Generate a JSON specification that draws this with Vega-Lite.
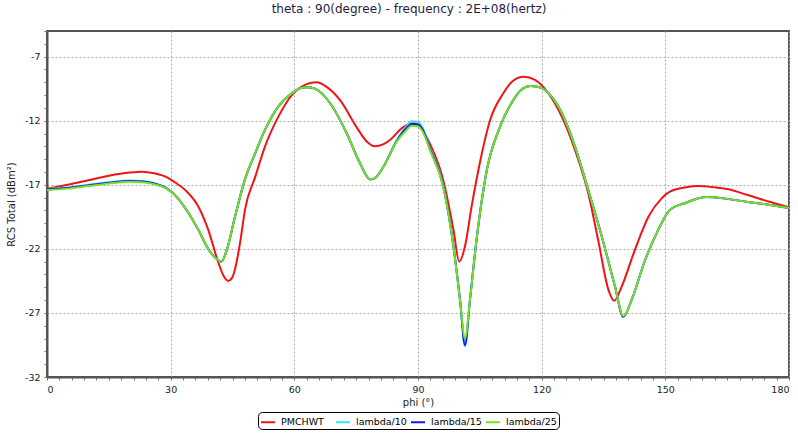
{
  "$schema": "https://vega.github.io/schema/vega-lite/v6.json",
  "width": 742,
  "height": 346,
  "autosize": {"type": "none"},
  "padding": {"left": 47, "top": 31, "right": 9, "bottom": 57},
  "background": "white",
  "title": {"text": "theta : 90(degree) - frequency : 2E+08(hertz)", "font": "DejaVu Sans", "fontSize": 12, "fontWeight": "normal", "color": "#1e1e46", "offset": 10, "dx": -9},
  "config": {
    "view": {"stroke": "#555555", "strokeWidth": 2},
    "axis": {
      "labelFont": "DejaVu Sans", "labelFontSize": 9.5, "labelColor": "#222222",
      "titleFont": "DejaVu Sans", "titleFontSize": 10, "titleFontWeight": "normal", "titleColor": "#222222",
      "domainColor": "#555555", "domainWidth": 2,
      "tickColor": "#777777", "tickSize": 3,
      "gridColor": "#aaaaaa", "gridDash": [2, 2], "gridWidth": 1
    }
  },
  "encoding": {
    "x": {
      "field": "phi", "type": "quantitative",
      "scale": {"domain": [0, 180], "nice": false, "zero": false},
      "axis": {
        "title": "phi (°)",
        "values": [0,3,6,9,12,15,18,21,24,27,30,33,36,39,42,45,48,51,54,57,60,63,66,69,72,75,78,81,84,87,90,93,96,99,102,105,108,111,114,117,120,123,126,129,132,135,138,141,144,147,150,153,156,159,162,165,168,171,174,177,180],
        "labelExpr": "datum.value % 30 === 0 ? '' + datum.value : ''",
        "gridOpacity": {"condition": {"test": "datum.value % 30 === 0", "value": 1}, "value": 0},
        "labelPadding": 4,
        "titlePadding": 4,
        "labelOverlap": false
      }
    },
    "y": {
      "field": "v", "type": "quantitative",
      "scale": {"domain": [-32, -5], "nice": false, "zero": false},
      "axis": {
        "title": "RCS Total (dBm²)",
        "values": [-32,-31,-30,-29,-28,-27,-26,-25,-24,-23,-22,-21,-20,-19,-18,-17,-16,-15,-14,-13,-12,-11,-10,-9,-8,-7,-6,-5],
        "labelExpr": "(datum.value + 32) % 5 === 0 ? '' + datum.value : ''",
        "gridOpacity": {"condition": {"test": "(datum.value + 32) % 5 === 0", "value": 1}, "value": 0},
        "labelPadding": 4,
        "titlePadding": 8,
        "labelOverlap": false
      }
    },
    "color": {
      "field": "s", "type": "nominal",
      "scale": {"domain": ["PMCHWT", "lambda/10", "lambda/15", "lambda/25"], "range": ["#ee1515", "#33e6e6", "#1515ee", "#77e022"]},
      "legend": {
        "title": null, "orient": "none", "direction": "horizontal", "legendX": 211, "legendY": 381,
        "symbolType": "stroke", "symbolStrokeWidth": 2, "symbolSize": 196,
        "labelFont": "DejaVu Sans", "labelFontSize": 9.5, "labelColor": "#000000", "labelOffset": 5,
        "columnPadding": 0, "gridAlign": "all",
        "strokeColor": "#000000", "fillColor": "#ffffff", "padding": 2, "cornerRadius": 4
      }
    }
  },
  "layer": [
    {
      "data": {"values": [
        {"phi":0,"PMCHWT":-17.3},{"phi":5,"PMCHWT":-17.0},{"phi":10,"PMCHWT":-16.65},{"phi":15,"PMCHWT":-16.3},{"phi":20,"PMCHWT":-16.05},{"phi":23,"PMCHWT":-15.98},{"phi":26,"PMCHWT":-16.1},{"phi":29,"PMCHWT":-16.4},{"phi":31,"PMCHWT":-16.8},{"phi":33.5,"PMCHWT":-17.4},{"phi":36.7,"PMCHWT":-18.7},{"phi":39.1,"PMCHWT":-20.5},{"phi":41.6,"PMCHWT":-23.1},{"phi":43,"PMCHWT":-24.2},{"phi":44,"PMCHWT":-24.5},{"phi":45,"PMCHWT":-24.2},{"phi":45.6,"PMCHWT":-23.6},{"phi":47,"PMCHWT":-21.2},{"phi":48,"PMCHWT":-19.0},{"phi":50.5,"PMCHWT":-16.4},{"phi":52.9,"PMCHWT":-14.0},{"phi":56.1,"PMCHWT":-11.7},{"phi":59.4,"PMCHWT":-10.0},{"phi":62,"PMCHWT":-9.3},{"phi":65.4,"PMCHWT":-9.0},{"phi":68,"PMCHWT":-9.4},{"phi":71.1,"PMCHWT":-10.4},{"phi":75.1,"PMCHWT":-12.5},{"phi":77.5,"PMCHWT":-13.6},{"phi":79.6,"PMCHWT":-14.0},{"phi":81.5,"PMCHWT":-13.85},{"phi":83.2,"PMCHWT":-13.5},{"phi":86.4,"PMCHWT":-12.5},{"phi":88.9,"PMCHWT":-12.2},{"phi":90.5,"PMCHWT":-12.5},{"phi":92.9,"PMCHWT":-13.8},{"phi":96.1,"PMCHWT":-16.6},{"phi":98.6,"PMCHWT":-20.5},{"phi":100,"PMCHWT":-23.0},{"phi":101.4,"PMCHWT":-21.8},{"phi":103,"PMCHWT":-18.7},{"phi":105,"PMCHWT":-15.3},{"phi":107.5,"PMCHWT":-11.95},{"phi":110.7,"PMCHWT":-9.86},{"phi":113,"PMCHWT":-8.9},{"phi":115.6,"PMCHWT":-8.57},{"phi":118.4,"PMCHWT":-8.82},{"phi":121.6,"PMCHWT":-9.86},{"phi":124.9,"PMCHWT":-11.7},{"phi":128.1,"PMCHWT":-14.3},{"phi":131.3,"PMCHWT":-17.66},{"phi":133.7,"PMCHWT":-21.3},{"phi":136.2,"PMCHWT":-25.2},{"phi":137.6,"PMCHWT":-26.05},{"phi":139.4,"PMCHWT":-24.95},{"phi":142.6,"PMCHWT":-22.1},{"phi":145.9,"PMCHWT":-19.5},{"phi":149.1,"PMCHWT":-18.06},{"phi":151.1,"PMCHWT":-17.54},{"phi":155,"PMCHWT":-17.2},{"phi":158,"PMCHWT":-17.1},{"phi":162,"PMCHWT":-17.2},{"phi":165,"PMCHWT":-17.33},{"phi":170,"PMCHWT":-17.8},{"phi":175,"PMCHWT":-18.3},{"phi":180,"PMCHWT":-18.75}
      ]},
      "transform": [{"fold": ["PMCHWT"], "as": ["s", "v"]}],
      "mark": {"type": "line", "strokeWidth": 2, "interpolate": "monotone"}
    },
    {
      "data": {"values": [
        {"phi":0,"lambda/10":-17.32,"lambda/15":-17.35,"lambda/25":-17.4},
        {"phi":5,"lambda/10":-17.22,"lambda/15":-17.25,"lambda/25":-17.3},
        {"phi":10,"lambda/10":-17.0,"lambda/15":-17.05,"lambda/25":-17.1},
        {"phi":15,"lambda/10":-16.8,"lambda/15":-16.85,"lambda/25":-16.9},
        {"phi":20,"lambda/10":-16.66,"lambda/15":-16.7,"lambda/25":-16.76},
        {"phi":23,"lambda/10":-16.7,"lambda/15":-16.74,"lambda/25":-16.8},
        {"phi":26,"lambda/10":-16.87,"lambda/15":-16.9,"lambda/25":-16.95},
        {"phi":29,"lambda/10":-17.25,"lambda/15":-17.28,"lambda/25":-17.3},
        {"phi":31,"lambda/10":-17.78,"lambda/15":-17.8,"lambda/25":-17.8},
        {"phi":33.5,"lambda/10":-18.8,"lambda/15":-18.8,"lambda/25":-18.8},
        {"phi":36.7,"lambda/10":-20.5,"lambda/15":-20.5,"lambda/25":-20.5},
        {"phi":39.1,"lambda/10":-22.0,"lambda/15":-22.0,"lambda/25":-22.0},
        {"phi":41.6,"lambda/10":-22.9,"lambda/15":-22.9,"lambda/25":-22.9},
        {"phi":42.3,"lambda/10":-23.0,"lambda/15":-23.0,"lambda/25":-23.0},
        {"phi":43.6,"lambda/10":-22.1,"lambda/15":-22.1,"lambda/25":-22.1},
        {"phi":45.6,"lambda/10":-19.5,"lambda/15":-19.5,"lambda/25":-19.5},
        {"phi":48,"lambda/10":-16.6,"lambda/15":-16.6,"lambda/25":-16.6},
        {"phi":50.5,"lambda/10":-14.55,"lambda/15":-14.55,"lambda/25":-14.55},
        {"phi":52.9,"lambda/10":-12.7,"lambda/15":-12.7,"lambda/25":-12.7},
        {"phi":56.1,"lambda/10":-10.9,"lambda/15":-10.9,"lambda/25":-10.9},
        {"phi":59.4,"lambda/10":-9.86,"lambda/15":-9.86,"lambda/25":-9.86},
        {"phi":61.4,"lambda/10":-9.47,"lambda/15":-9.47,"lambda/25":-9.47},
        {"phi":63,"lambda/10":-9.39,"lambda/15":-9.39,"lambda/25":-9.39},
        {"phi":65,"lambda/10":-9.5,"lambda/15":-9.5,"lambda/25":-9.5},
        {"phi":68.7,"lambda/10":-10.64,"lambda/15":-10.64,"lambda/25":-10.64},
        {"phi":72.7,"lambda/10":-12.98,"lambda/15":-12.98,"lambda/25":-12.98},
        {"phi":75.9,"lambda/10":-15.3,"lambda/15":-15.3,"lambda/25":-15.3},
        {"phi":78.4,"lambda/10":-16.58,"lambda/15":-16.58,"lambda/25":-16.58},
        {"phi":79.5,"lambda/10":-16.5,"lambda/15":-16.5,"lambda/25":-16.5},
        {"phi":81.6,"lambda/10":-15.6,"lambda/15":-15.6,"lambda/25":-15.6},
        {"phi":84.8,"lambda/10":-13.55,"lambda/15":-13.6,"lambda/25":-13.65},
        {"phi":87,"lambda/10":-12.5,"lambda/15":-12.65,"lambda/25":-12.8},
        {"phi":88.5,"lambda/10":-12.05,"lambda/15":-12.25,"lambda/25":-12.4},
        {"phi":90,"lambda/10":-12.1,"lambda/15":-12.3,"lambda/25":-12.45},
        {"phi":91.2,"lambda/10":-12.6,"lambda/15":-12.75,"lambda/25":-12.9},
        {"phi":92.9,"lambda/10":-14.1,"lambda/15":-14.2,"lambda/25":-14.3},
        {"phi":96.1,"lambda/10":-17.0,"lambda/15":-17.1,"lambda/25":-17.15},
        {"phi":98.6,"lambda/10":-21.8,"lambda/15":-21.8,"lambda/25":-21.8},
        {"phi":100.2,"lambda/10":-26.0,"lambda/15":-26.0,"lambda/25":-26.0},
        {"phi":101.4,"lambda/10":-29.6,"lambda/15":-29.5,"lambda/25":-29.0},
        {"phi":102.6,"lambda/10":-26.0,"lambda/15":-26.0,"lambda/25":-26.0},
        {"phi":104.2,"lambda/10":-21.3,"lambda/15":-21.3,"lambda/25":-21.3},
        {"phi":106.7,"lambda/10":-15.85,"lambda/15":-15.85,"lambda/25":-15.85},
        {"phi":109.9,"lambda/10":-12.47,"lambda/15":-12.47,"lambda/25":-12.47},
        {"phi":113.1,"lambda/10":-10.4,"lambda/15":-10.4,"lambda/25":-10.4},
        {"phi":115,"lambda/10":-9.6,"lambda/15":-9.6,"lambda/25":-9.6},
        {"phi":117.2,"lambda/10":-9.3,"lambda/15":-9.3,"lambda/25":-9.3},
        {"phi":119,"lambda/10":-9.35,"lambda/15":-9.35,"lambda/25":-9.35},
        {"phi":120.8,"lambda/10":-9.6,"lambda/15":-9.6,"lambda/25":-9.6},
        {"phi":124.9,"lambda/10":-11.4,"lambda/15":-11.4,"lambda/25":-11.4},
        {"phi":128.1,"lambda/10":-14.03,"lambda/15":-14.03,"lambda/25":-14.03},
        {"phi":131.3,"lambda/10":-17.4,"lambda/15":-17.4,"lambda/25":-17.4},
        {"phi":134.6,"lambda/10":-21.05,"lambda/15":-21.05,"lambda/25":-21.05},
        {"phi":137.8,"lambda/10":-24.95,"lambda/15":-24.95,"lambda/25":-24.95},
        {"phi":139.8,"lambda/10":-27.3,"lambda/15":-27.3,"lambda/25":-27.24},
        {"phi":141.8,"lambda/10":-26.0,"lambda/15":-26.0,"lambda/25":-26.0},
        {"phi":145.1,"lambda/10":-22.87,"lambda/15":-22.87,"lambda/25":-22.87},
        {"phi":148.3,"lambda/10":-20.5,"lambda/15":-20.5,"lambda/25":-20.5},
        {"phi":151.1,"lambda/10":-18.97,"lambda/15":-18.97,"lambda/25":-18.97},
        {"phi":155,"lambda/10":-18.4,"lambda/15":-18.4,"lambda/25":-18.4},
        {"phi":160,"lambda/10":-17.95,"lambda/15":-17.95,"lambda/25":-17.95},
        {"phi":165,"lambda/10":-18.1,"lambda/15":-18.1,"lambda/25":-18.1},
        {"phi":170,"lambda/10":-18.34,"lambda/15":-18.34,"lambda/25":-18.34},
        {"phi":175,"lambda/10":-18.55,"lambda/15":-18.55,"lambda/25":-18.55},
        {"phi":180,"lambda/10":-18.8,"lambda/15":-18.8,"lambda/25":-18.8}
      ]},
      "transform": [{"fold": ["lambda/10", "lambda/15", "lambda/25"], "as": ["s", "v"]}],
      "mark": {"type": "line", "strokeWidth": 2, "interpolate": "monotone"}
    }
  ]
}
